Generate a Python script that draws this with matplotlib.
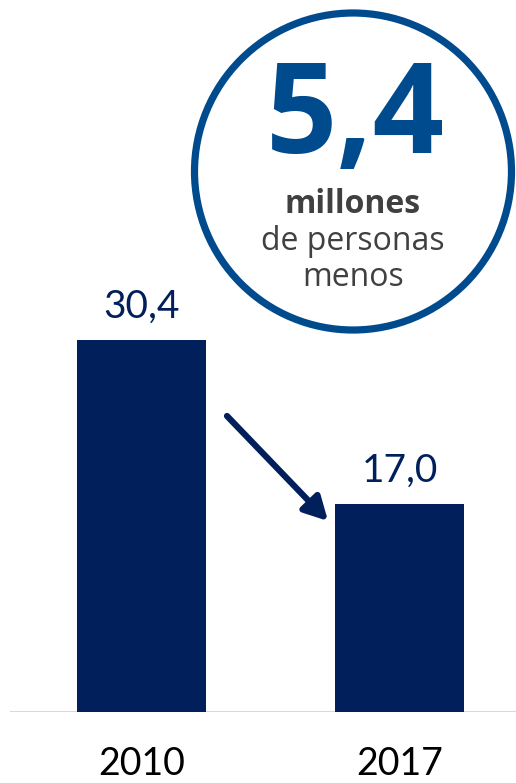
import matplotlib.pyplot as plt
from matplotlib.patches import Circle

# datos
years = ['2010', '2017']
values = [30.4, 17.0]
value_labels = ['30,4', '17,0']
big_number = '5,4'
note_bold = 'millones'
note_lines = ['de personas', 'menos']

navy = '#001F5B'
blue = '#004B8D'
gray = '#404040'

W, H = 516, 783
fig = plt.figure(figsize=(W / 100, H / 100), dpi=100)

# eje de barras: y=0 en el pixel 712 desde arriba
base_px = 712
px_per_unit = 12.24
ax = fig.add_axes([0, (H - base_px) / H, 1, base_px / H])
ax.set_ylim(0, base_px / px_per_unit)
ax.set_xlim(-141.5 / 258, (W - 141.5) / 258)
x = range(len(years))
ax.bar(x, values, width=0.5, color=navy, zorder=2)
ax.axhline(0, xmin=11 / W, xmax=1, color='#D9D9D9', lw=1.5, zorder=1)

for xi, v, lab in zip(x, values, value_labels):
    ax.text(xi, v + 1.8, lab, ha='center', va='baseline', fontsize=28,
            family='Lato', color=navy)
for xi, yr in zip(x, years):
    ax.text(xi, -63 / px_per_unit, yr, ha='center', va='baseline', fontsize=27,
            family='Lato', color='black', clip_on=False)
ax.axis('off')

# capa superior en pixeles para el circulo y la flecha
ov = fig.add_axes([0, 0, 1, 1])
ov.set_xlim(0, W)
ov.set_ylim(H, 0)
ov.axis('off')
ov.add_patch(Circle((353, 171.5), 158.5, fill=False, ec=blue, lw=5.2))
ov.text(355, 153, big_number, ha='center', va='baseline', fontsize=90,
        family='Open Sans', weight='bold', color=blue)
ov.text(353, 213, note_bold, ha='center', va='baseline', fontsize=23,
        family='Open Sans', weight='bold', color=gray)
ov.text(353, 250, note_lines[0], ha='center', va='baseline', fontsize=23,
        family='Open Sans', color=gray)
ov.text(353, 286, note_lines[1], ha='center', va='baseline', fontsize=23,
        family='Open Sans', color=gray)

ov.annotate('', xy=(328, 521), xytext=(227, 416),
            arrowprops=dict(arrowstyle='-|>,head_length=1.4,head_width=0.75',
                            color=navy, lw=4.5, shrinkA=0, shrinkB=0))

fig.savefig('out.png', dpi=100)
